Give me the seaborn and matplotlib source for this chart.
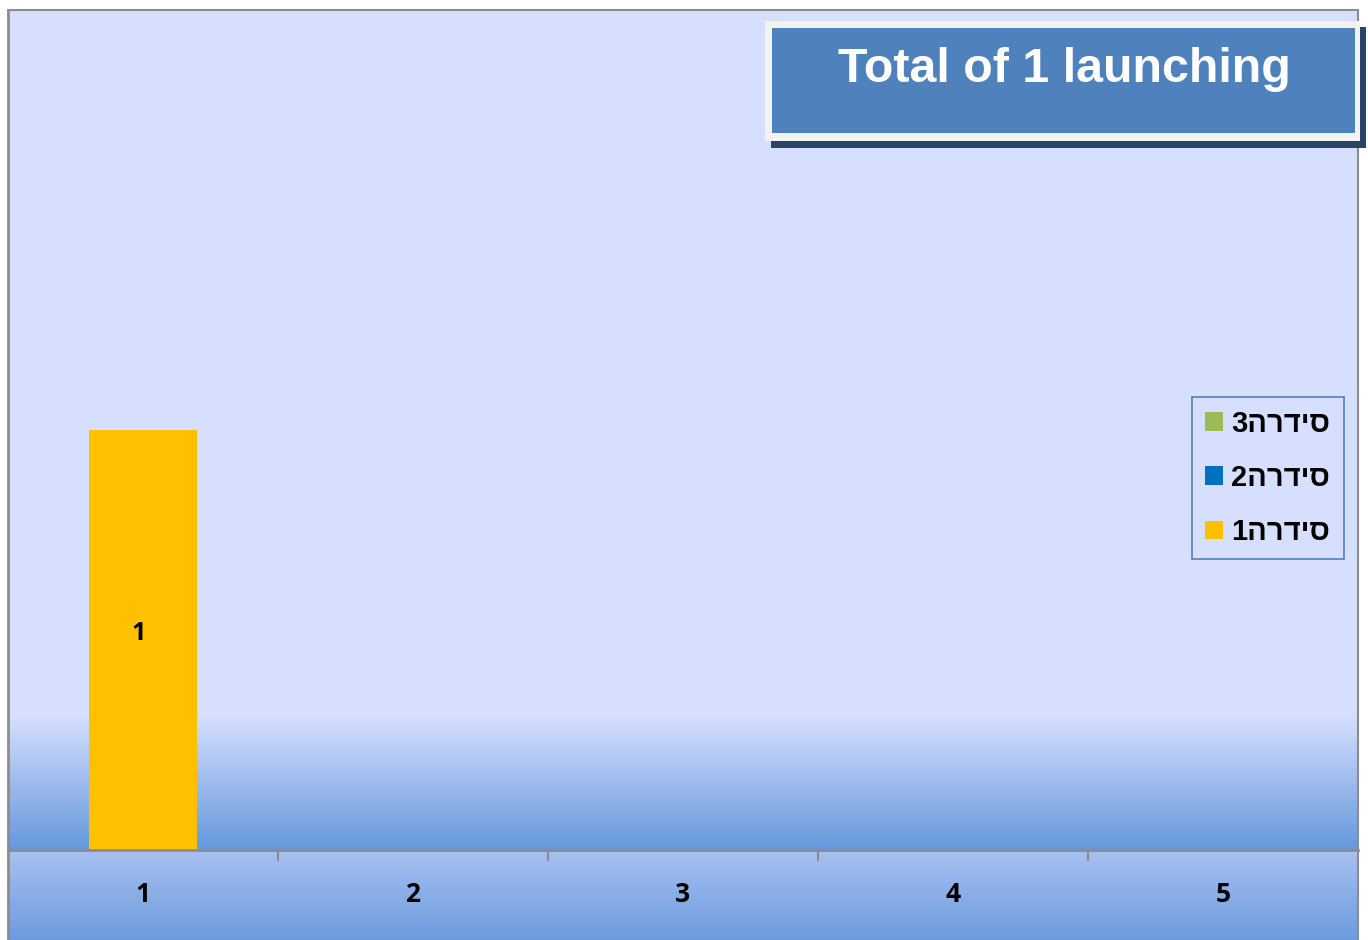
import numpy as np
import pandas as pd
import matplotlib
matplotlib.use('Agg')
import matplotlib.pyplot as plt
import seaborn as sns
from matplotlib.patches import Rectangle, Patch

# chart data
categories = ['1', '2', '3', '4', '5']
series_names = ['3הרדיס', '2הרדיס', '1הרדיס']  # visual (RTL) order of סידרה3/2/1
series1 = [1, 0, 0, 0, 0]
series2 = [0, 0, 0, 0, 0]
series3 = [0, 0, 0, 0, 0]
series_colors = ['#9BBB59', '#0070C0', '#FFC000']
title_text = 'Total of 1 launching'

df = pd.DataFrame({
    'category': categories * 3,
    'series': [series_names[2]] * 5 + [series_names[1]] * 5 + [series_names[0]] * 5,
    'value': series1 + series2 + series3,
})

sns.set_theme(style='white')
plt.rcParams['font.family'] = ['Liberation Sans', 'DejaVu Sans']
plt.rcParams['text.color'] = 'black'

W, H = 1368, 940
fig = plt.figure(figsize=(W / 100, H / 100), dpi=100)

# background decoration axes in pixel coordinates
bg = fig.add_axes([0, 0, 1, 1], zorder=0)
bg.set_xlim(0, W)
bg.set_ylim(H, 0)
bg.axis('off')
bg.add_patch(Rectangle((8, 10), 1350, 705, color='#D6DFFE', lw=0))


def vgrad(c1, c2, x0, x1, y0, y1):
    c1 = np.array(matplotlib.colors.to_rgb(c1))
    c2 = np.array(matplotlib.colors.to_rgb(c2))
    t = np.linspace(0, 1, 200)[:, None]
    img = (c1 * (1 - t) + c2 * t)[:, None, :]
    bg.imshow(img, extent=[x0, x1, y1, y0], aspect='auto', interpolation='bilinear')


vgrad('#D6DFFE', '#6598DC', 8, 1358, 715, 850)
vgrad('#A8C1F1', '#6C9BDD', 8, 1358, 850, 940)
bg.set_xlim(0, W)
bg.set_ylim(H, 0)
# outer chart border
bg.plot([8, 8], [10, 940], color='#8C8C8C', lw=2)
bg.plot([8, 1358], [10, 10], color='#8C8C8C', lw=1.5)
bg.plot([1358, 1358], [10, 940], color='#8C8C8C', lw=1.5)

# title box with shadow
bg.add_patch(Rectangle((771, 27), 595, 121, color='#2B4465', lw=0, zorder=3))
bg.add_patch(Rectangle((765, 21), 595, 120, color='#F2F2F2', lw=0, zorder=4))
bg.add_patch(Rectangle((772, 28), 583, 105, color='#4F81BD', lw=0, zorder=5))
bg.text(1064, 69, title_text, color='white', fontsize=34.8, fontweight='bold',
        ha='center', va='center', zorder=6, family=['Liberation Sans', 'DejaVu Sans'])

# main plot axes
ax = fig.add_axes([8 / W, 90 / H, 1350 / W, 840 / H], zorder=1)
ax.set_facecolor('none')
sns.barplot(data=df, x='category', y='value', hue='series', dodge=False,
            palette=dict(zip(series_names, series_colors)), width=0.4, saturation=1,
            linewidth=0, legend=False, ax=ax)
ax.set_ylim(0, 2)
ax.set_xlim(-0.5, 4.5)

for cont in ax.containers:
    labels = [f'{int(b.get_height())}' if b.get_height() > 0 else '' for b in cont]
    texts = ax.bar_label(cont, labels=labels, label_type='center', fontsize=18,
                         fontweight='bold', family=['Open Sans', 'DejaVu Sans'], color='black')
    for t in texts:
        t.xyann = (-3, 5)

ax.set_xlabel('')
ax.set_ylabel('')
ax.set_yticks([])
ax.set_xticks(range(5))
ax.set_xticklabels(categories, fontsize=19, fontweight='bold', color='black',
                   family=['Open Sans', 'DejaVu Sans'])
ax.tick_params(axis='x', which='major', length=0, pad=22)
ax.set_xticks([0.5, 1.5, 2.5, 3.5], minor=True)
ax.tick_params(axis='x', which='minor', bottom=True, length=8, width=1.5,
               color='#8C8C8C', direction='out')
for s in ['left', 'top', 'right']:
    ax.spines[s].set_visible(False)
ax.spines['bottom'].set_color('#8C8C8C')
ax.spines['bottom'].set_linewidth(2)

handles = [Patch(facecolor=c, edgecolor='none') for c in series_colors]
leg = ax.legend(handles, series_names, loc='center left',
                bbox_to_anchor=(1192 / W, 1 - 478 / H), bbox_transform=fig.transFigure,
                frameon=True, fancybox=False, framealpha=1, facecolor='none',
                edgecolor='#4F81BD',
                prop={'size': 21, 'weight': 'bold', 'family': ['Liberation Sans', 'DejaVu Sans']},
                handlelength=0.6, handleheight=0.6, handletextpad=0.3,
                labelspacing=0.9, borderpad=0.45, borderaxespad=0)
leg.get_frame().set_linewidth(1.2)
for t in leg.get_texts():
    t.set_color('black')

fig.savefig('out.png', dpi=100)
